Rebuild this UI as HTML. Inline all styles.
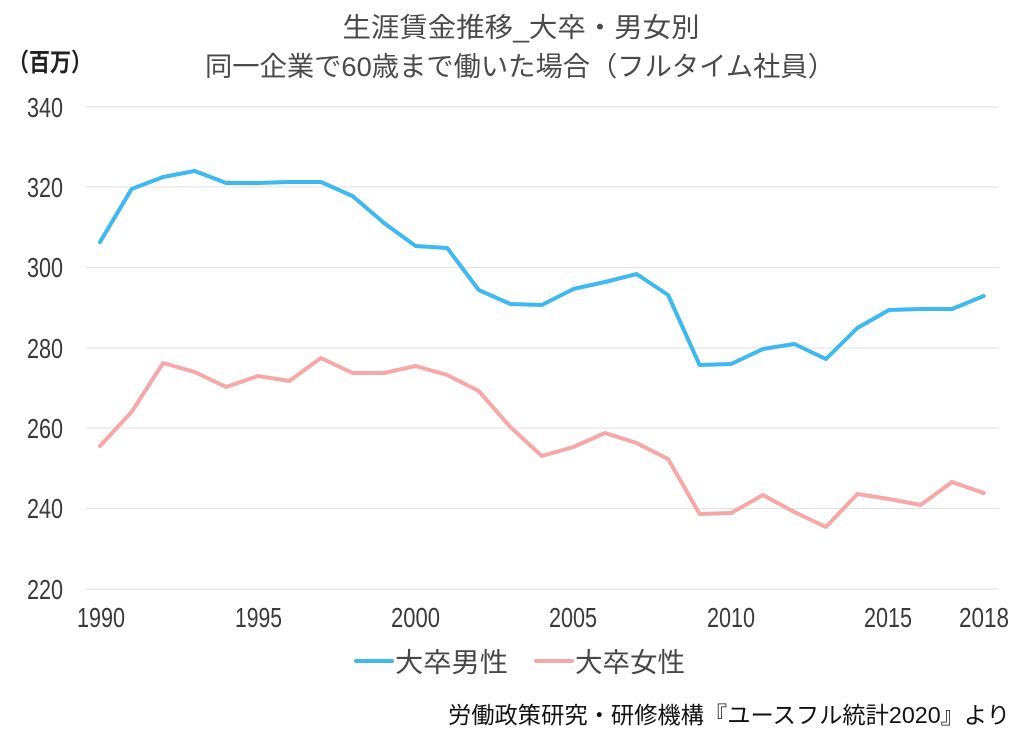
<!DOCTYPE html>
<html><head><meta charset="utf-8"><style>
html,body{margin:0;padding:0;background:#fff;}
svg{display:block;}
</style></head><body>
<svg width="1024" height="738" viewBox="0 0 1024 738" xmlns="http://www.w3.org/2000/svg">
<rect width="1024" height="738" fill="#fff"/>
<g font-family="'Liberation Sans','Noto Sans CJK JP',sans-serif" fill="#4a4a4a">
<text x="521" y="37" font-size="27" text-anchor="middle" textLength="357" lengthAdjust="spacingAndGlyphs">生涯賃金推移_大卒・男女別</text>
<text x="520" y="76" font-size="27" text-anchor="middle" textLength="630" lengthAdjust="spacingAndGlyphs">同一企業で60歳まで働いた場合（フルタイム社員）</text>
</g>
<text x="8" y="71" font-family="'Liberation Sans','Noto Sans CJK JP',sans-serif" font-size="25" font-weight="bold" fill="#222" textLength="84" lengthAdjust="spacingAndGlyphs">（百万）</text>
<g stroke="#e2e2e2" stroke-width="1">
<line x1="86" y1="107" x2="999" y2="107"/>
<line x1="86" y1="187" x2="999" y2="187"/>
<line x1="86" y1="267.5" x2="999" y2="267.5"/>
<line x1="86" y1="348" x2="999" y2="348"/>
<line x1="86" y1="428" x2="999" y2="428"/>
<line x1="86" y1="508.5" x2="999" y2="508.5"/>
<line x1="86" y1="589" x2="999" y2="589"/>
</g>
<g font-family="'Liberation Sans',sans-serif" font-size="28" fill="#3a3a3a">
<text x="27" y="117" textLength="36" lengthAdjust="spacingAndGlyphs">340</text>
<text x="27" y="197" textLength="36" lengthAdjust="spacingAndGlyphs">320</text>
<text x="27" y="277" textLength="36" lengthAdjust="spacingAndGlyphs">300</text>
<text x="27" y="358" textLength="36" lengthAdjust="spacingAndGlyphs">280</text>
<text x="27" y="438" textLength="36" lengthAdjust="spacingAndGlyphs">260</text>
<text x="27" y="518" textLength="36" lengthAdjust="spacingAndGlyphs">240</text>
<text x="27" y="599" textLength="36" lengthAdjust="spacingAndGlyphs">220</text>
<text x="77" y="627" textLength="48" lengthAdjust="spacingAndGlyphs">1990</text>
<text x="235" y="627" textLength="47" lengthAdjust="spacingAndGlyphs">1995</text>
<text x="391" y="627" textLength="49" lengthAdjust="spacingAndGlyphs">2000</text>
<text x="549" y="627" textLength="48" lengthAdjust="spacingAndGlyphs">2005</text>
<text x="707" y="627" textLength="48" lengthAdjust="spacingAndGlyphs">2010</text>
<text x="864" y="627" textLength="48" lengthAdjust="spacingAndGlyphs">2015</text>
<text x="959" y="627" textLength="50" lengthAdjust="spacingAndGlyphs">2018</text>
</g>
<polyline fill="none" stroke="#3db8f0" stroke-width="4" stroke-linejoin="round" stroke-linecap="round"
points="100,242 131.6,189 163.1,177 194.7,171 226.2,183 257.8,183 289.4,182 320.9,182 352.5,196 384,223 415.6,246 447.2,248 478.7,290 510.3,304 541.8,305 573.4,289 605,282 636.5,274 668.1,295 699.6,365 731.2,364 762.8,349 794.3,344 825.9,359 857.4,328 889,310 920.6,309 952.1,309 983.7,296"/>
<polyline fill="none" stroke="#f8a7a7" stroke-width="4" stroke-linejoin="round" stroke-linecap="round"
points="100,446 131.6,412 163.1,363 194.7,372 226.2,387 257.8,376 289.4,381 320.9,358 352.5,373 384,373 415.6,366 447.2,375 478.7,391 510.3,427 541.8,456 573.4,447 605,433 636.5,443 668.1,459 699.6,514 731.2,513 762.8,495 794.3,512 825.9,527 857.4,494 889,499 920.6,505 952.1,482 983.7,493"/>
<line x1="356" y1="661" x2="392" y2="661" stroke="#3db8f0" stroke-width="4" stroke-linecap="round"/>
<line x1="536" y1="661" x2="572" y2="661" stroke="#f8a7a7" stroke-width="4" stroke-linecap="round"/>
<g font-family="'Liberation Sans','Noto Sans CJK JP',sans-serif" font-size="27" fill="#474747">
<text x="395" y="672" textLength="113" lengthAdjust="spacingAndGlyphs">大卒男性</text>
<text x="575" y="672" textLength="110" lengthAdjust="spacingAndGlyphs">大卒女性</text>
</g>
<text x="448" y="723" font-family="'Liberation Sans','Noto Sans CJK JP',sans-serif" font-size="23" fill="#111" textLength="562" lengthAdjust="spacingAndGlyphs">労働政策研究・研修機構『ユースフル統計2020』より</text>
</svg>
</body></html>
